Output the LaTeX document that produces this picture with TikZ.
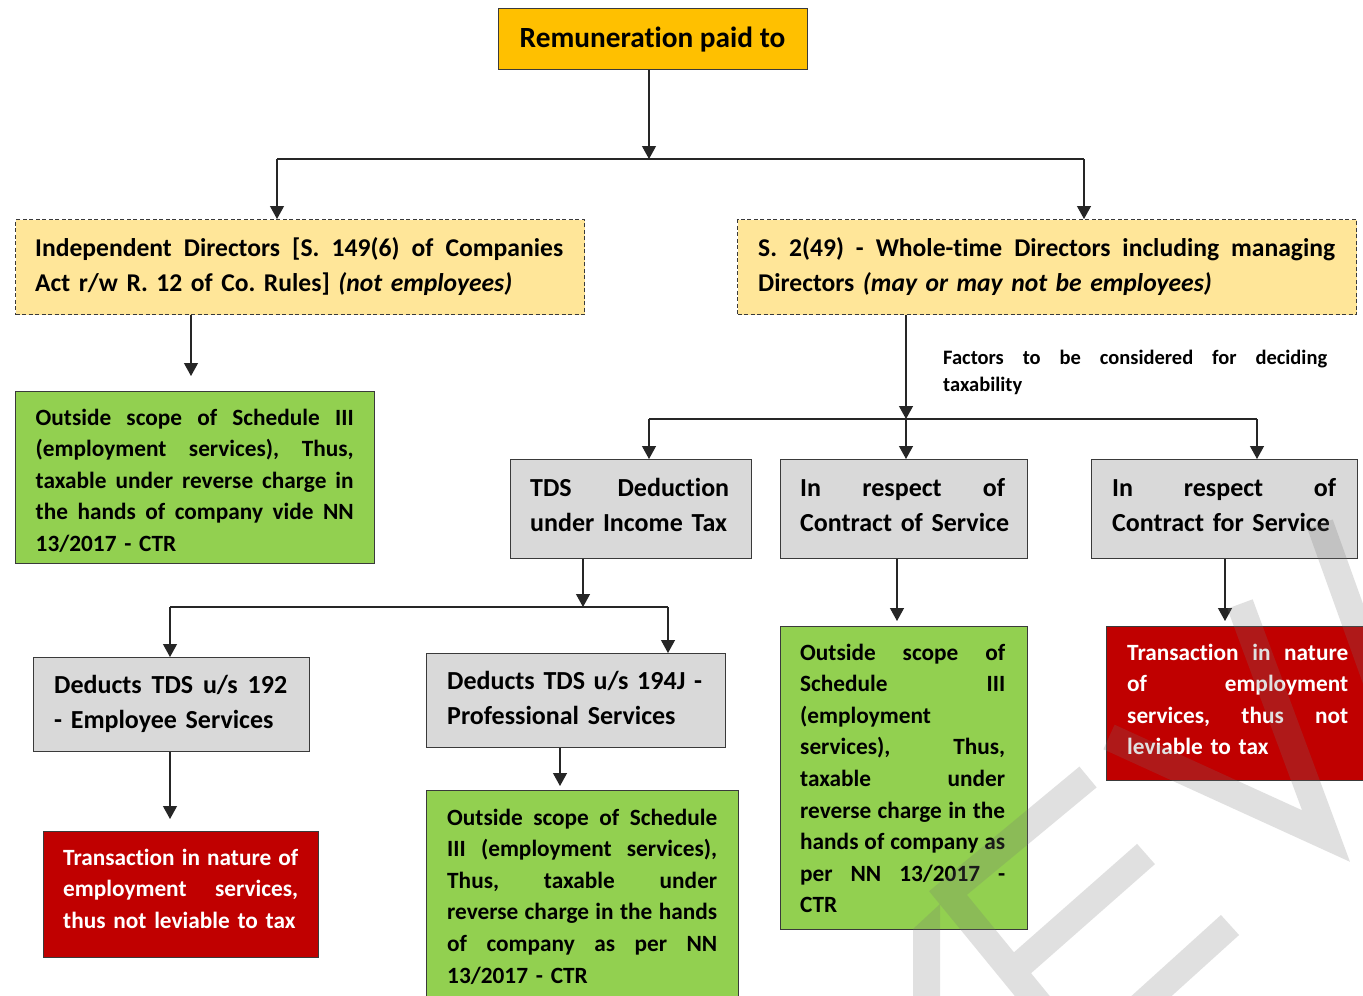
\documentclass[tikz,border=0pt]{standalone}
\usepackage{fontspec}
\setmainfont{Carlito}[Ligatures=NoCommon]
\usetikzlibrary{arrows.meta,calc}

\definecolor{amberfill}{HTML}{FFC000}
\definecolor{palefill}{HTML}{FFE699}
\definecolor{leaffill}{HTML}{92D050}
\definecolor{greyfill}{HTML}{D9D9D9}
\definecolor{redfill}{HTML}{C00000}
\definecolor{rim}{HTML}{3A3A3A}
\definecolor{wmark}{RGB}{116,116,116}

% one fully justified line, spread over the node's text width
\newcommand{\J}[1]{\leavevmode\hbox to \hsize{\spaceskip=\fontdimen2\font plus 1fil
  \xspaceskip=\fontdimen2\font plus 1fil\relax #1}}

\frenchspacing
\begin{document}
\begin{tikzpicture}[x=1pt,y=-1pt,
  panel/.style={draw=rim, line width=1.2pt, anchor=north west, inner sep=0pt},
  dashpanel/.style={panel, dash pattern=on 4pt off 2.5pt},
  txt/.style={anchor=base west, inner sep=0pt, align=left},
  headtxt/.style={txt, font=\bfseries\fontsize{25.6}{35}\selectfont},
  bigtxt/.style={txt, font=\bfseries\fontsize{26}{35}\selectfont},
  smalltxt/.style={txt, font=\bfseries\fontsize{23.3}{31.6}\selectfont},
  link/.style={line width=1.2pt, draw=black!85},
  arr/.style={link, -{Triangle[width=14pt,length=13pt]}},
]
\useasboundingbox (0,0) rectangle (1363,996);
\clip (0,0) rectangle (1363,996);
\fill[white] (0,0) rectangle (1363,996);

% ---------- boxes ----------
\node[panel, fill=amberfill, minimum width=309pt, minimum height=61pt] (top) at (498,8) {};
\node[dashpanel, fill=palefill, minimum width=569pt, minimum height=95pt] (indep) at (15,219) {};
\node[dashpanel, fill=palefill, minimum width=619pt, minimum height=95pt] (whole) at (737,219) {};
\node[panel, fill=leaffill, minimum width=359pt, minimum height=172pt] (outL) at (15,391) {};
\node[panel, fill=greyfill, minimum width=241pt, minimum height=99pt] (tds) at (510,459) {};
\node[panel, fill=greyfill, minimum width=247pt, minimum height=99pt] (cof) at (780,459) {};
\node[panel, fill=greyfill, minimum width=266pt, minimum height=99pt] (cfor) at (1091,459) {};
\node[panel, fill=greyfill, minimum width=276pt, minimum height=94pt] (d192) at (33,657) {};
\node[panel, fill=greyfill, minimum width=299pt, minimum height=94pt] (d194) at (426,653) {};
\node[panel, fill=leaffill, minimum width=312pt, minimum height=220pt] (outM) at (426,790) {};
\node[panel, fill=leaffill, minimum width=247pt, minimum height=303pt] (outR) at (780,626) {};
\node[panel, fill=redfill, minimum width=270pt, minimum height=154pt] (nevR) at (1106,626) {};
\node[panel, fill=redfill, minimum width=275pt, minimum height=126pt] (nevL) at (43,831) {};

% ---------- texts ----------
\node[txt, anchor=base, font=\bfseries\fontsize{29.3}{35}\selectfont] (top-t) at (652.5,47) {Remuneration paid to};

\node[headtxt, text width=528pt] (indep-t) at (35,256.5)
  {\J{Independent Directors [S. 149(6) of Companies}\\
   \mbox{Act r/w R. 12 of Co. Rules] \textit{(not employees)}}};
\node[headtxt, text width=577pt] (whole-t) at (758,256.5)
  {\J{S. 2(49) - Whole-time Directors including managing}\\
   \mbox{Directors \textit{(may or may not be employees)}}};

\node[txt, text width=384pt, font=\bfseries\fontsize{20.5}{27.5}\selectfont] (factors) at (943,364)
  {\J{Factors to be considered for deciding}\\ \mbox{taxability}};

\node[smalltxt, text width=318pt] (outL-t) at (35.5,425)
  {\J{Outside scope of Schedule III}\\
   \J{(employment services), Thus,}\\
   \J{taxable under reverse charge in}\\
   \J{the hands of company vide NN}\\
   \mbox{13/2017 - CTR}};

\node[bigtxt, text width=199pt] (tds-t) at (530,496)
  {\J{TDS Deduction}\\ \mbox{under Income Tax}};
\node[bigtxt, text width=205pt] (cof-t) at (800,496)
  {\J{In respect of}\\ \mbox{Contract of Service}};
\node[bigtxt, text width=224pt] (cfor-t) at (1112,496)
  {\J{In respect of}\\ \mbox{Contract for Service}};

\node[bigtxt, text width=233pt] (d192-t) at (54,693)
  {\J{Deducts TDS u/s 192}\\ \mbox{- Employee Services}};
\node[bigtxt, text width=260pt] (d194-t) at (447,689)
  {\mbox{Deducts TDS u/s 194J -}\\ \mbox{Professional Services}};

\node[smalltxt, text width=270pt] (outM-t) at (447,825)
  {\J{Outside scope of Schedule}\\
   \J{III (employment services),}\\
   \J{Thus, taxable under}\\
   \J{reverse charge in the hands}\\
   \J{of company as per NN}\\
   \mbox{13/2017 - CTR}};

\node[smalltxt, text width=205pt] (outR-t) at (800,660)
  {\J{Outside scope of}\\
   \J{Schedule III}\\
   \mbox{(employment}\\
   \J{services), Thus,}\\
   \J{taxable under}\\
   \J{reverse charge in the}\\
   \J{hands of company as}\\
   \J{per NN 13/2017 -}\\
   \mbox{CTR}};

\node[smalltxt, text width=221pt, text=white] (nevR-t) at (1127,660)
  {\J{Transaction in nature}\\
   \J{of employment}\\
   \J{services, thus not}\\
   \mbox{leviable to tax}};

\node[smalltxt, text width=235pt, text=white] (nevL-t) at (63,865)
  {\J{Transaction in nature of}\\
   \J{employment services,}\\
   \mbox{thus not leviable to tax}};

% ---------- connectors ----------
\coordinate (busA-l) at (277,159);
\coordinate (busA-m) at (649,159);
\coordinate (busA-r) at (1084,159);
\draw[arr] (busA-m |- top.south) -- (busA-m);
\draw[link] (busA-l) -- (busA-r);
\draw[arr] (busA-l) -- (busA-l |- indep.north);
\draw[arr] (busA-r) -- (busA-r |- whole.north);

\coordinate (colL) at (191,0);
\draw[arr] (colL |- indep.south) -- ($(colL |- outL.north)+(0,-15)$);

\coordinate (busB-l) at (649,419);
\coordinate (busB-m) at (906,419);
\coordinate (busB-r) at (1257,419);
\draw[arr] (busB-m |- whole.south) -- (busB-m);
\draw[link] (busB-l) -- (busB-r);
\draw[arr] (busB-l) -- (busB-l |- tds.north);
\draw[arr] (busB-m) -- (busB-m |- cof.north);
\draw[arr] (busB-r) -- (busB-r |- cfor.north);

\coordinate (busC-l) at (170,607);
\coordinate (busC-m) at (583,607);
\coordinate (busC-r) at (668,607);
\draw[arr] (busC-m |- tds.south) -- (busC-m);
\draw[link] (busC-l) -- (busC-r);
\draw[arr] (busC-l) -- (busC-l |- d192.north);
\draw[arr] (busC-r) -- (busC-r |- d194.north);

\coordinate (colA) at (170,0);
\coordinate (colB) at (560,0);
\coordinate (colC) at (897,0);
\coordinate (colD) at (1225,0);
\draw[arr] (colA |- d192.south) -- ($(colA |- nevL.north)+(0,-12)$);
\draw[arr] (colB |- d194.south) -- ($(colB |- outM.north)+(0,-4)$);
\draw[arr] (colC |- cof.south) -- ($(colC |- outR.north)+(0,-5)$);
\draw[arr] (colD |- cfor.south) -- ($(colD |- nevR.north)+(0,-5)$);

% ---------- faint diagonal watermark strokes ----------
\begin{scope}[draw=wmark, fill=wmark, opacity=0.22, line width=27pt, line cap=butt, line join=miter]
  \fill (913,1000) -- (913,929) -- (940,904) -- (940,1000) -- cycle;
  \draw (1088,777) -- (948,893) -- (1083,1058) -- (1230,925)
        (1012,972) -- (1146,854);
  \draw (1109,737) -- (1326,836) -- (1240,604);
  \draw (1320,524) -- (1376,680);
\end{scope}
\end{tikzpicture}
\end{document}
